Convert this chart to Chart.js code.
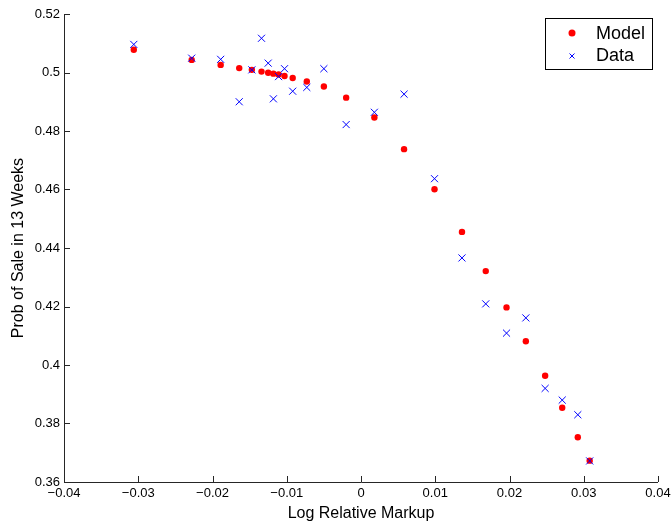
<!DOCTYPE html>
<html>
<head>
<meta charset="utf-8">
<script src="https://cdn.jsdelivr.net/npm/chart.js@4"></script>
<style>
  html, body { margin: 0; padding: 0; background: #fff; }
  #wrap { width: 671px; height: 523px; }
</style>
</head>
<body>
<div id="wrap"><canvas id="chart" width="671" height="523"></canvas></div>
<script>
// valores
const markup = [-0.0306, -0.0228, -0.0189, -0.0164, -0.0147, -0.0134, -0.0125, -0.0118, -0.0111,
  -0.0103, -0.0092, -0.0073, -0.0050, -0.0020, 0.0018, 0.0058, 0.0099, 0.0136, 0.0168,
  0.0196, 0.0222, 0.0248, 0.0271, 0.0292, 0.0308];
const modelProb = [0.5078, 0.5043, 0.5026, 0.5015, 0.5009, 0.5003, 0.4999, 0.4996, 0.4993,
  0.4988, 0.4981, 0.4969, 0.4952, 0.4914, 0.4846, 0.4738, 0.4601, 0.4455, 0.4321,
  0.4197, 0.4081, 0.3963, 0.3854, 0.3753, 0.3673];
const dataProb = [0.5096, 0.5049, 0.5045, 0.4900, 0.5009, 0.5117, 0.5032, 0.4910, 0.4986,
  0.5013, 0.4936, 0.4949, 0.5013, 0.4822, 0.4864, 0.4926, 0.4637, 0.4366, 0.4209,
  0.4109, 0.4161, 0.3920, 0.3880, 0.3830, 0.3672];
const xTicks = [-0.04, -0.03, -0.02, -0.01, 0, 0.01, 0.02, 0.03, 0.04];
const yTicks = [0.36, 0.38, 0.4, 0.42, 0.44, 0.46, 0.48, 0.5, 0.52];

const FONT = "'Liberation Sans', Arial, Helvetica, sans-serif";

function fmt(v) {
  const r = Math.round(v * 100) / 100;
  if (r === 0) return '0';
  return String(r).replace('-', '\u2212');
}

// ticks hacia dentro y leyenda dentro del area, estilo matlab
const matlabAxes = {
  id: 'matlabAxes',
  afterDraw(chart) {
    const ctx = chart.ctx;
    const a = chart.chartArea;
    const xs = chart.scales.x, ys = chart.scales.y;
    ctx.save();
    ctx.strokeStyle = '#262626';
    ctx.lineWidth = 1;
    ctx.beginPath();
    ctx.moveTo(a.left + 0.5, a.top);
    ctx.lineTo(a.left + 0.5, a.bottom + 0.5);
    ctx.lineTo(a.right, a.bottom + 0.5);
    xTicks.forEach(v => {
      const px = Math.round(xs.getPixelForValue(v)) + 0.5;
      ctx.moveTo(px, a.bottom);
      ctx.lineTo(px, a.bottom - 6);
    });
    yTicks.forEach(v => {
      const py = Math.round(ys.getPixelForValue(v)) + 0.5;
      ctx.moveTo(a.left, py);
      ctx.lineTo(a.left + 6, py);
    });
    ctx.stroke();

    // leyenda
    const bx = 545.5, by = 18.5, bw = 107, bh = 51;
    ctx.fillStyle = '#fff';
    ctx.fillRect(bx, by, bw, bh);
    ctx.strokeStyle = '#000';
    ctx.strokeRect(bx, by, bw, bh);
    ctx.fillStyle = '#ff0000';
    ctx.beginPath();
    ctx.arc(572, 33, 3.5, 0, Math.PI * 2);
    ctx.fill();
    ctx.strokeStyle = '#0000ff';
    ctx.beginPath();
    ctx.moveTo(569.5, 53.5); ctx.lineTo(574.5, 58.5);
    ctx.moveTo(574.5, 53.5); ctx.lineTo(569.5, 58.5);
    ctx.stroke();
    ctx.fillStyle = '#000';
    ctx.font = '18px ' + FONT;
    ctx.textBaseline = 'middle';
    ctx.textAlign = 'left';
    ctx.fillText('Model', 596, 34);
    ctx.fillText('Data', 596, 56);
    ctx.restore();
  }
};

new Chart(document.getElementById('chart'), {
  type: 'scatter',
  data: {
    datasets: [
      {
        label: 'Model',
        data: markup.map((x, i) => ({ x: x, y: modelProb[i] })),
        pointStyle: 'circle',
        pointRadius: 3.2,
        backgroundColor: '#ff0000',
        borderColor: '#ff0000',
        borderWidth: 0,
        order: 2
      },
      {
        label: 'Data',
        data: markup.map((x, i) => ({ x: x, y: dataProb[i] })),
        pointStyle: 'crossRot',
        pointRadius: 5,
        borderColor: '#0000ff',
        backgroundColor: '#0000ff',
        borderWidth: 1,
        order: 1
      }
    ]
  },
  options: {
    responsive: false,
    animation: false,
    layout: { padding: { top: 14, right: 13, left: 9, bottom: 0 } },
    plugins: {
      legend: { display: false },
      tooltip: { enabled: false }
    },
    scales: {
      x: {
        type: 'linear',
        min: -0.04,
        max: 0.04,
        afterBuildTicks: s => { s.ticks = xTicks.map(v => ({ value: v })); },
        afterFit: s => { s.height = 41; s.paddingRight = 0; s.paddingLeft = 0; },
        grid: { display: false, drawTicks: false },
        border: { display: false },
        ticks: {
          color: '#000',
          padding: 4,
          maxRotation: 0,
          font: { family: FONT, size: 13 },
          callback: v => fmt(v)
        },
        title: {
          display: true,
          text: 'Log Relative Markup',
          color: '#000',
          font: { family: FONT, size: 16 },
          padding: { top: 0, bottom: 0 }
        }
      },
      y: {
        type: 'linear',
        min: 0.36,
        max: 0.52,
        afterBuildTicks: s => { s.ticks = yTicks.map(v => ({ value: v })); },
        afterFit: s => { s.width = 55; },
        grid: { display: false, drawTicks: false },
        border: { display: false },
        ticks: {
          color: '#000',
          padding: 4,
          font: { family: FONT, size: 13 },
          callback: v => fmt(v)
        },
        title: {
          display: true,
          text: 'Prob of Sale in 13 Weeks',
          color: '#000',
          font: { family: FONT, size: 16 },
          padding: { top: 0, bottom: 4 }
        }
      }
    }
  },
  plugins: [matlabAxes]
});
</script>
</body>
</html>
